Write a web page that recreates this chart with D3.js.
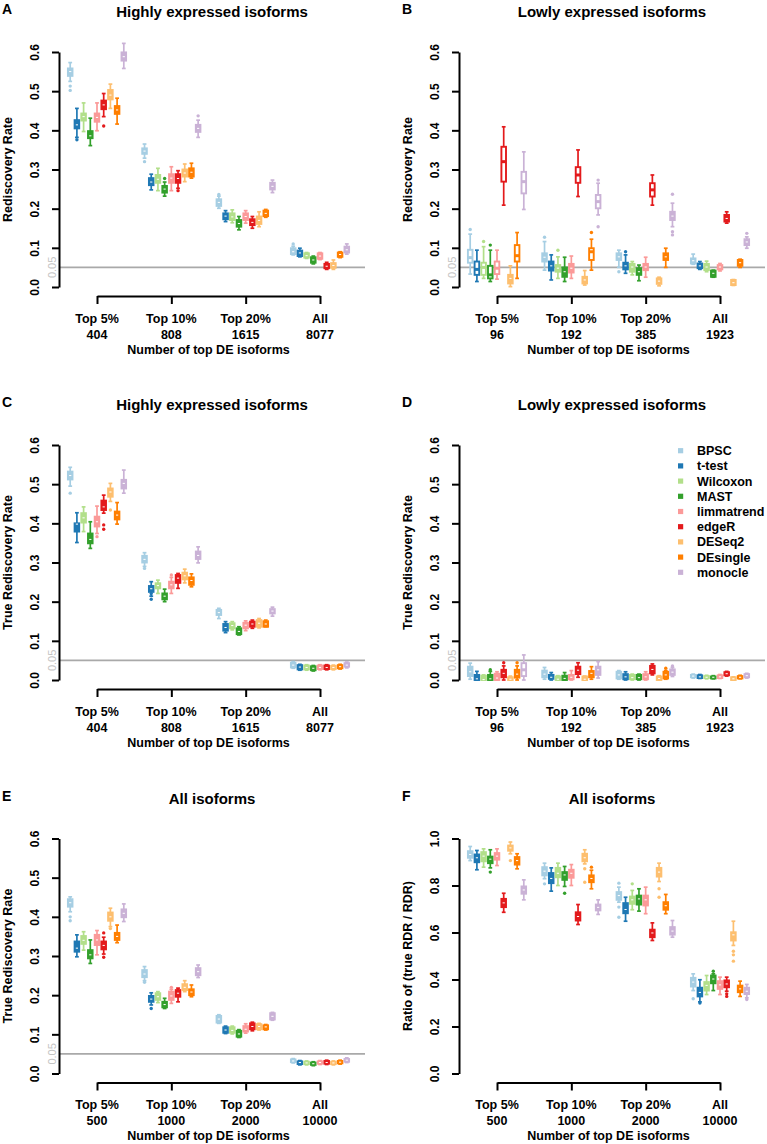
<!DOCTYPE html>
<html>
<head>
<meta charset="utf-8">
<script src="https://cdn.jsdelivr.net/npm/d3@7"></script>
<style>
  html, body { margin: 0; padding: 0; background: #fff; }
  svg { display: block; font-family: "Liberation Sans", Arial, Helvetica, sans-serif; }
</style>
</head>
<body>
<svg id="chart" width="767" height="1144"></svg>
<script>
// ---------------- data ----------------
const methods = ["BPSC","t-test","Wilcoxon","MAST","limmatrend","edgeR","DESeq2","DEsingle","monocle"];
const colors  = ["#A6CEE3","#1F78B4","#B2DF8A","#33A02C","#FB9A99","#E31A1C","#FDBF6F","#FF7F00","#CAB2D6"];
const groups  = ["Top 5%","Top 10%","Top 20%","All"];
const countsHigh = ["404","808","1615","8077"];
const countsLow  = ["96","192","385","1923"];
const countsAll  = ["500","1000","2000","10000"];
const ticksRate  = [0,0.1,0.2,0.3,0.4,0.5,0.6];
const ticksRatio = [0,0.2,0.4,0.6,0.8,1.0];
const refLevel = 0.05;

// stats: per method, per group: [lower whisker, Q1, median, Q3, upper whisker]
const statsA = [
  [[0.525,0.539,0.550,0.558,0.573],[0.329,0.340,0.347,0.354,0.365],[0.201,0.207,0.216,0.224,0.232],[0.082,0.084,0.090,0.099,0.104]],
  [[0.382,0.405,0.414,0.426,0.456],[0.248,0.260,0.268,0.278,0.288],[0.167,0.173,0.181,0.188,0.195],[0.077,0.079,0.087,0.093,0.099]],
  [[0.397,0.425,0.435,0.443,0.470],[0.246,0.266,0.275,0.286,0.303],[0.164,0.171,0.179,0.188,0.197],[0.073,0.075,0.080,0.086,0.088]],
  [[0.361,0.380,0.386,0.398,0.431],[0.232,0.241,0.250,0.258,0.268],[0.146,0.154,0.162,0.171,0.180],[0.059,0.062,0.069,0.076,0.079]],
  [[0.399,0.422,0.433,0.443,0.470],[0.246,0.266,0.278,0.288,0.307],[0.163,0.171,0.180,0.188,0.195],[0.070,0.072,0.079,0.086,0.088]],
  [[0.435,0.454,0.465,0.476,0.494],[0.252,0.266,0.277,0.288,0.297],[0.150,0.158,0.165,0.173,0.180],[0.045,0.048,0.053,0.059,0.063]],
  [[0.456,0.479,0.490,0.503,0.518],[0.269,0.282,0.291,0.300,0.314],[0.154,0.161,0.170,0.180,0.192],[0.045,0.049,0.055,0.061,0.069]],
  [[0.416,0.442,0.452,0.462,0.482],[0.278,0.282,0.293,0.303,0.316],[0.178,0.181,0.188,0.195,0.198],[0.075,0.077,0.083,0.088,0.090]],
  [[0.558,0.578,0.588,0.599,0.622],[0.382,0.396,0.405,0.414,0.426],[0.241,0.249,0.257,0.266,0.273],[0.084,0.088,0.095,0.103,0.110]]
];
const outA = [[0,0,0.513],[0,0,0.502],[1,0,0.376],[5,0,0.411],[0,1,0.320],[3,1,0.277],[5,1,0.246],[8,1,0.437],[0,2,0.236],[0,3,0.110]];

const statsB = [
  [[0.033,0.062,0.075,0.095,0.135],[0.043,0.065,0.076,0.086,0.116],[0.050,0.069,0.077,0.086,0.094],[0.058,0.060,0.067,0.073,0.084]],
  [[0.014,0.031,0.045,0.065,0.094],[0.018,0.042,0.054,0.065,0.082],[0.035,0.045,0.054,0.062,0.082],[0.045,0.048,0.054,0.060,0.065]],
  [[0.022,0.031,0.050,0.062,0.103],[0.022,0.039,0.048,0.056,0.077],[0.031,0.039,0.051,0.059,0.065],[0.039,0.043,0.051,0.059,0.066]],
  [[0.014,0.022,0.031,0.054,0.094],[0.014,0.026,0.039,0.050,0.076],[0.016,0.031,0.039,0.048,0.056],[0.025,0.026,0.035,0.042,0.043]],
  [[0.020,0.033,0.048,0.065,0.094],[0.022,0.037,0.048,0.059,0.079],[0.025,0.043,0.051,0.059,0.076],[0.041,0.045,0.051,0.056,0.060]],
  [[0.209,0.269,0.320,0.358,0.409],[0.231,0.266,0.286,0.306,0.350],[0.209,0.231,0.248,0.265,0.286],[0.163,0.167,0.175,0.184,0.192]],
  [[0.001,0.009,0.022,0.031,0.054],[0.005,0.009,0.018,0.026,0.042],[0.003,0.008,0.015,0.022,0.025],[0.004,0.005,0.011,0.018,0.019]],
  [[0.022,0.065,0.080,0.107,0.139],[0.043,0.069,0.090,0.099,0.122],[0.050,0.069,0.077,0.086,0.099],[0.050,0.054,0.062,0.069,0.071]],
  [[0.198,0.239,0.269,0.294,0.345],[0.184,0.201,0.218,0.235,0.265],[0.154,0.171,0.181,0.192,0.214],[0.099,0.107,0.115,0.122,0.128]]
];
const outB = [[0,0,0.147],[2,0,0.116],[3,0,0.107],[0,1,0.127],[2,1,0.094],[7,1,0.139],[8,1,0.273],[8,1,0.154],
              [0,2,0.039],[1,2,0.090],[8,2,0.237],[8,2,0.141],[8,2,0.133],[8,3,0.137]];

const statsC = [
  [[0.495,0.512,0.522,0.532,0.543],[0.290,0.300,0.308,0.317,0.325],[0.157,0.166,0.172,0.179,0.183],[0.030,0.032,0.038,0.044,0.047]],
  [[0.351,0.379,0.398,0.400,0.427],[0.214,0.225,0.233,0.240,0.251],[0.121,0.126,0.134,0.143,0.149],[0.025,0.027,0.033,0.038,0.040]],
  [[0.379,0.402,0.414,0.426,0.442],[0.221,0.234,0.241,0.247,0.255],[0.128,0.132,0.139,0.145,0.149],[0.025,0.027,0.032,0.037,0.039]],
  [[0.336,0.349,0.359,0.374,0.404],[0.200,0.206,0.214,0.221,0.232],[0.115,0.117,0.124,0.132,0.136],[0.023,0.025,0.030,0.035,0.037]],
  [[0.374,0.392,0.404,0.417,0.444],[0.221,0.234,0.243,0.251,0.262],[0.126,0.132,0.140,0.146,0.151],[0.026,0.028,0.032,0.037,0.039]],
  [[0.426,0.434,0.442,0.458,0.472],[0.234,0.248,0.260,0.268,0.272],[0.132,0.136,0.143,0.149,0.153],[0.026,0.028,0.032,0.037,0.039]],
  [[0.456,0.468,0.480,0.489,0.502],[0.248,0.257,0.266,0.274,0.283],[0.133,0.136,0.145,0.153,0.157],[0.026,0.028,0.032,0.036,0.038]],
  [[0.398,0.410,0.421,0.430,0.453],[0.238,0.243,0.254,0.262,0.271],[0.136,0.136,0.143,0.150,0.153],[0.028,0.030,0.034,0.038,0.040]],
  [[0.477,0.489,0.502,0.511,0.536],[0.299,0.309,0.318,0.328,0.340],[0.163,0.170,0.176,0.181,0.186],[0.031,0.034,0.038,0.043,0.046]]
];
const outC = [[0,0,0.477],[4,0,0.366],[5,0,0.396],[5,0,0.385],[6,0,0.434],[0,1,0.285],[1,1,0.221],[1,1,0.206],[4,1,0.268]];

const statsD = [
  [[0.002,0.010,0.021,0.034,0.043],[0.002,0.007,0.015,0.024,0.032],[0.002,0.004,0.013,0.021,0.024],[0.005,0.007,0.010,0.013,0.015]],
  [[0.000,0.000,0.003,0.013,0.022],[0.000,0.003,0.007,0.013,0.019],[0.000,0.002,0.008,0.015,0.021],[0.004,0.005,0.008,0.012,0.014]],
  [[0.000,0.000,0.001,0.011,0.013],[0.000,0.000,0.002,0.009,0.011],[0.000,0.002,0.006,0.013,0.015],[0.003,0.005,0.007,0.010,0.012]],
  [[0.000,0.000,0.003,0.013,0.022],[0.000,0.000,0.004,0.011,0.019],[0.000,0.002,0.006,0.013,0.015],[0.003,0.004,0.007,0.009,0.011]],
  [[0.000,0.000,0.005,0.016,0.021],[0.000,0.002,0.007,0.013,0.024],[0.000,0.002,0.008,0.015,0.021],[0.004,0.005,0.008,0.012,0.014]],
  [[0.000,0.007,0.017,0.026,0.036],[0.007,0.015,0.025,0.034,0.044],[0.013,0.017,0.027,0.036,0.041],[0.010,0.012,0.016,0.020,0.022]],
  [[0.000,0.000,0.002,0.007,0.010],[0.000,0.000,0.002,0.009,0.010],[0.000,0.000,0.004,0.009,0.011],[0.000,0.000,0.003,0.007,0.008]],
  [[0.000,0.006,0.015,0.026,0.036],[0.002,0.007,0.017,0.023,0.034],[0.002,0.004,0.013,0.021,0.024],[0.003,0.004,0.007,0.010,0.012]],
  [[0.000,0.010,0.026,0.043,0.064],[0.005,0.013,0.026,0.034,0.047],[0.009,0.013,0.020,0.027,0.032],[0.005,0.007,0.011,0.015,0.017]]
];
const outD = [[3,0,0.026],[5,0,0.044],[7,0,0.044],[7,2,0.030],[8,2,0.036]];

const statsE = [
  [[0.413,0.426,0.436,0.445,0.451],[0.237,0.246,0.254,0.264,0.273],[0.128,0.130,0.139,0.147,0.150],[0.027,0.029,0.032,0.036,0.038]],
  [[0.298,0.311,0.320,0.337,0.354],[0.175,0.183,0.190,0.198,0.206],[0.102,0.104,0.111,0.118,0.121],[0.022,0.024,0.028,0.031,0.033]],
  [[0.315,0.331,0.340,0.351,0.362],[0.181,0.188,0.196,0.205,0.209],[0.101,0.104,0.110,0.118,0.121],[0.022,0.024,0.027,0.030,0.032]],
  [[0.281,0.294,0.303,0.315,0.341],[0.166,0.169,0.176,0.183,0.192],[0.092,0.094,0.101,0.109,0.112],[0.020,0.022,0.025,0.028,0.030]],
  [[0.303,0.328,0.341,0.354,0.365],[0.179,0.188,0.198,0.209,0.215],[0.103,0.107,0.113,0.121,0.127],[0.023,0.025,0.028,0.031,0.033]],
  [[0.305,0.317,0.327,0.337,0.348],[0.183,0.196,0.205,0.213,0.218],[0.109,0.113,0.120,0.128,0.131],[0.023,0.025,0.028,0.032,0.034]],
  [[0.375,0.390,0.400,0.411,0.422],[0.209,0.213,0.220,0.228,0.237],[0.111,0.113,0.120,0.126,0.128],[0.022,0.024,0.027,0.030,0.032]],
  [[0.334,0.341,0.350,0.359,0.379],[0.196,0.200,0.208,0.215,0.226],[0.111,0.113,0.119,0.123,0.125],[0.024,0.026,0.029,0.032,0.034]],
  [[0.388,0.399,0.409,0.419,0.433],[0.245,0.251,0.260,0.269,0.277],[0.136,0.138,0.146,0.154,0.156],[0.028,0.030,0.034,0.037,0.040]]
];
const outE = [[0,0,0.400],[0,0,0.390],[5,0,0.359],[5,0,0.297],[6,0,0.370],[0,1,0.233],[1,1,0.166],[4,1,0.220]];

const statsF = [
  [[0.906,0.918,0.932,0.946,0.966],[0.829,0.843,0.861,0.878,0.895],[0.729,0.739,0.757,0.772,0.793],[0.353,0.370,0.389,0.407,0.424]],
  [[0.867,0.899,0.918,0.932,0.949],[0.776,0.810,0.830,0.853,0.875],[0.648,0.682,0.698,0.725,0.750],[0.305,0.328,0.345,0.365,0.399]],
  [[0.878,0.903,0.925,0.942,0.956],[0.800,0.835,0.852,0.875,0.895],[0.697,0.722,0.739,0.753,0.779],[0.336,0.353,0.375,0.389,0.417]],
  [[0.875,0.895,0.912,0.923,0.952],[0.796,0.824,0.845,0.857,0.881],[0.691,0.719,0.743,0.757,0.786],[0.353,0.384,0.402,0.417,0.424]],
  [[0.885,0.910,0.925,0.938,0.956],[0.800,0.833,0.852,0.867,0.889],[0.680,0.715,0.739,0.757,0.793],[0.336,0.360,0.377,0.393,0.410]],
  [[0.686,0.708,0.726,0.743,0.767],[0.634,0.651,0.668,0.686,0.719],[0.566,0.580,0.598,0.612,0.641],[0.350,0.367,0.381,0.396,0.410]],
  [[0.935,0.948,0.960,0.970,0.985],[0.892,0.903,0.918,0.935,0.952],[0.817,0.838,0.857,0.875,0.895],[0.545,0.566,0.590,0.601,0.648]],
  [[0.871,0.889,0.906,0.921,0.935],[0.786,0.814,0.830,0.843,0.865],[0.680,0.697,0.714,0.729,0.762],[0.328,0.346,0.360,0.374,0.393]],
  [[0.739,0.765,0.781,0.796,0.824],[0.677,0.694,0.707,0.719,0.739],[0.580,0.591,0.606,0.623,0.651],[0.322,0.338,0.350,0.365,0.379]]
];
const outF = [[3,0,0.857],[6,0,0.906],[0,1,0.807],[3,1,0.767],[6,1,0.871],[6,1,0.814],[7,1,0.878],
              [0,2,0.810],[0,2,0.708],[0,2,0.665],[2,2,0.807],[6,2,0.786],[6,2,0.750],
              [0,3,0.318],[1,3,0.300],[3,3,0.435],[5,3,0.339],[5,3,0.328],[6,3,0.520],[6,3,0.505],[6,3,0.478],[8,3,0.315]];

// ---------------- drawing ----------------
const svg = d3.select("#chart");
const FONT_BOLD = 700;

function drawPanel(cfg) {
  const cx0 = cfg.col * 400;
  const y0 = [287, 680, 1073.5][cfg.row];
  const g = svg.append("g");

  const y = d3.scaleLinear().domain([0, cfg.ymax]).range([y0, y0 - 235]);
  const xg = d3.scalePoint().domain(groups).range([97 + cx0, 320 + cx0]);
  const xm = d3.scalePoint().domain(methods).range([-26.8, 26.8]);
  const axisX = 59 + cx0;

  // panel letter and title
  g.append("text").attr("x", 2 + cx0).attr("y", y0 - 273)
    .attr("font-size", 14).attr("font-weight", FONT_BOLD).text(cfg.letter);
  g.append("text").attr("x", 212 + cx0).attr("y", y0 - 270).attr("text-anchor", "middle")
    .attr("font-size", 15).attr("font-weight", FONT_BOLD).text(cfg.title);

  // reference line
  if (cfg.ref) {
    g.append("line").attr("x1", axisX).attr("x2", 365 + cx0)
      .attr("y1", y(refLevel)).attr("y2", y(refLevel))
      .attr("stroke", "#a9a9a9").attr("stroke-width", 1.6);
    g.append("text").attr("transform", `translate(${axisX - 7},${y(refLevel)}) rotate(-90)`)
      .attr("text-anchor", "middle").attr("dy", "0.35em")
      .attr("font-size", 11).attr("fill", "#c4c4c4").text("0.05");
  }

  // y axis
  const ya = g.append("g").attr("transform", `translate(${axisX},0)`)
    .call(d3.axisLeft(y).tickValues(cfg.yticks).tickSize(7).tickSizeOuter(0).tickFormat(d3.format(".1f")));
  ya.select(".domain").attr("stroke", "#000").attr("stroke-width", 2);
  ya.selectAll(".tick line").attr("stroke", "#000").attr("stroke-width", 2);
  ya.selectAll(".tick text")
    .attr("x", 0).attr("dy", "0.36em").attr("text-anchor", "middle")
    .attr("transform", "translate(-24,0) rotate(-90)")
    .attr("font-size", 12).attr("font-weight", FONT_BOLD).attr("fill", "#000")
    .attr("font-family", null);

  // y label
  g.append("text").attr("transform", `translate(${axisX - 52},${y0 - 117.5}) rotate(-90)`)
    .attr("text-anchor", "middle").attr("dy", "0.36em")
    .attr("font-size", 12.5).attr("font-weight", FONT_BOLD).text(cfg.ylab);

  // x axis
  const xa = g.append("g").attr("transform", `translate(0,${y0 + 9})`)
    .call(d3.axisBottom(xg).tickSize(8).tickSizeOuter(0).tickFormat(""));
  xa.select(".domain").attr("stroke", "#000").attr("stroke-width", 2);
  xa.selectAll(".tick line").attr("stroke", "#000").attr("stroke-width", 2);
  groups.forEach((gr, i) => {
    g.append("text").attr("x", xg(gr)).attr("y", y0 + 31).attr("dy", "0.36em").attr("text-anchor", "middle")
      .attr("font-size", 12.5).attr("font-weight", FONT_BOLD).text(gr);
    g.append("text").attr("x", xg(gr)).attr("y", y0 + 47).attr("dy", "0.36em").attr("text-anchor", "middle")
      .attr("font-size", 12.5).attr("font-weight", FONT_BOLD).text(cfg.counts[i]);
  });
  g.append("text").attr("x", (xg(groups[0]) + xg(groups[3])) / 2).attr("y", y0 + 62).attr("dy", "0.36em")
    .attr("text-anchor", "middle").attr("font-size", 12.5).attr("font-weight", FONT_BOLD)
    .text("Number of top DE isoforms");

  // boxes
  const bw = 4.6, cap = 3.8, sw = 1.7;
  const boxes = [];
  cfg.stats.forEach((arr, mi) => arr.forEach((s, gi) => boxes.push({mi, gi, s})));
  const bg = g.append("g");
  boxes.forEach(b => {
    const col = colors[b.mi];
    const cx = xg(groups[b.gi]) + xm(methods[b.mi]);
    const [lo, q1, md, q3, hi] = b.s;
    const bb = bg.append("g");
    bb.append("line").attr("x1", cx).attr("x2", cx).attr("y1", y(hi)).attr("y2", y(q3))
      .attr("stroke", col).attr("stroke-width", sw);
    bb.append("line").attr("x1", cx).attr("x2", cx).attr("y1", y(q1)).attr("y2", y(lo))
      .attr("stroke", col).attr("stroke-width", sw);
    bb.append("line").attr("x1", cx - cap / 2).attr("x2", cx + cap / 2).attr("y1", y(hi)).attr("y2", y(hi))
      .attr("stroke", col).attr("stroke-width", sw);
    bb.append("line").attr("x1", cx - cap / 2).attr("x2", cx + cap / 2).attr("y1", y(lo)).attr("y2", y(lo))
      .attr("stroke", col).attr("stroke-width", sw);
    const top = y(q3), h = Math.max(y(q1) - y(q3), 0.5);
    if (h < 11) {
      bb.append("rect").attr("x", cx - bw / 2).attr("y", top).attr("width", bw).attr("height", h)
        .attr("fill", col).attr("stroke", col).attr("stroke-width", 1.9);
      bb.append("line").attr("x1", cx - bw / 2 + 1.2).attr("x2", cx + bw / 2 - 1.2)
        .attr("y1", y(md)).attr("y2", y(md)).attr("stroke", "#fff").attr("stroke-width", 1);
    } else {
      bb.append("rect").attr("x", cx - bw / 2).attr("y", top).attr("width", bw).attr("height", h)
        .attr("fill", "#fff").attr("stroke", col).attr("stroke-width", 1.9);
      bb.append("line").attr("x1", cx - bw / 2).attr("x2", cx + bw / 2)
        .attr("y1", y(md)).attr("y2", y(md)).attr("stroke", col).attr("stroke-width", 3);
    }
  });
  bg.selectAll("circle.out").data(cfg.outs).enter().append("circle").attr("class", "out")
    .attr("cx", d => xg(groups[d[1]]) + xm(methods[d[0]]))
    .attr("cy", d => y(d[2])).attr("r", 1.7)
    .attr("fill", d => colors[d[0]]);
}

drawPanel({col:0,row:0,letter:"A",title:"Highly expressed isoforms",ylab:"Rediscovery Rate",
  stats:statsA,outs:outA,counts:countsHigh,ymax:0.6,yticks:ticksRate,ref:true});
drawPanel({col:1,row:0,letter:"B",title:"Lowly expressed isoforms",ylab:"Rediscovery Rate",
  stats:statsB,outs:outB,counts:countsLow,ymax:0.6,yticks:ticksRate,ref:true});
drawPanel({col:0,row:1,letter:"C",title:"Highly expressed isoforms",ylab:"True Rediscovery Rate",
  stats:statsC,outs:outC,counts:countsHigh,ymax:0.6,yticks:ticksRate,ref:true});
drawPanel({col:1,row:1,letter:"D",title:"Lowly expressed isoforms",ylab:"True Rediscovery Rate",
  stats:statsD,outs:outD,counts:countsLow,ymax:0.6,yticks:ticksRate,ref:true});
drawPanel({col:0,row:2,letter:"E",title:"All isoforms",ylab:"True Rediscovery Rate",
  stats:statsE,outs:outE,counts:countsAll,ymax:0.6,yticks:ticksRate,ref:true});
drawPanel({col:1,row:2,letter:"F",title:"All isoforms",ylab:"Ratio of (true RDR / RDR)",
  stats:statsF,outs:outF,counts:countsAll,ymax:1.0,yticks:ticksRatio,ref:false});

// legend (panel D)
const leg = svg.append("g");
const ly = d3.scalePoint().domain(methods).range([450.7, 572.3]);
methods.forEach((m, i) => {
  leg.append("rect").attr("x", 678).attr("y", ly(m) - 2.6).attr("width", 5.2).attr("height", 5.2).attr("fill", colors[i]);
  leg.append("text").attr("x", 697).attr("y", ly(m)).attr("dy", "0.36em")
    .attr("font-size", 12.5).attr("font-weight", FONT_BOLD).text(m);
});
</script>
</body>
</html>
